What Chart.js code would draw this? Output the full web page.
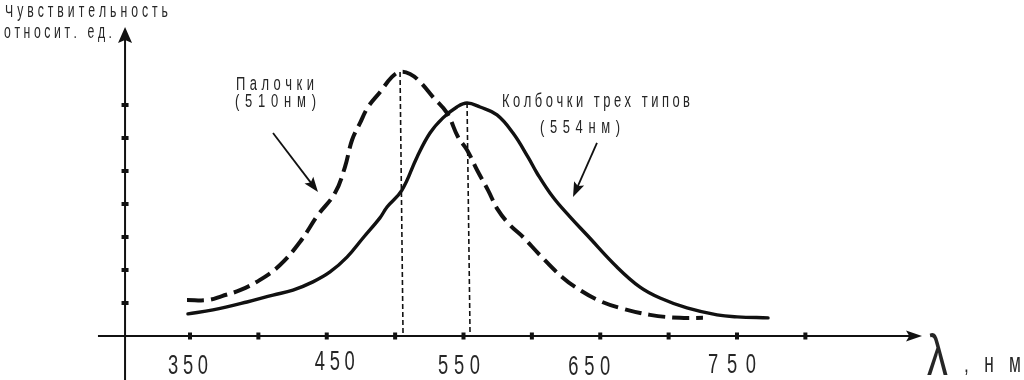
<!DOCTYPE html>
<html><head><meta charset="utf-8">
<script src="https://cdn.jsdelivr.net/npm/chart.js@4"></script>
<style>html,body{margin:0;padding:0;background:#fff;}#wrap{width:1024px;height:380px;position:relative;}</style>
</head><body><div id="wrap"><canvas id="c"></canvas></div>
<script>
// ---- data (wavelength, nm / relative sensitivity, rel. units) ----
const rodWavelength = [347.8, 363.2, 373.4, 386.6, 401.2, 415.8, 430.4, 443.6, 456.0, 463.3, 468.5, 474.3, 480.2, 488.9, 497.7, 503.6, 510.9, 518.2, 527.7, 537.9, 546.0, 552.6, 559.9, 567.9, 575.2, 584.0, 593.5, 605.9, 622.0, 635.2, 649.8, 664.4, 686.4, 708.3, 725.1];
const rodSensitivity = [1.09, 1.09, 1.21, 1.39, 1.70, 2.15, 2.85, 3.67, 4.33, 5.12, 5.94, 6.45, 6.94, 7.39, 7.85, 8.0, 7.94, 7.70, 7.24, 6.76, 6.03, 5.64, 5.03, 4.42, 3.82, 3.36, 3.0, 2.45, 1.79, 1.39, 1.06, 0.85, 0.64, 0.55, 0.55];
const coneWavelength = [348.5, 366.8, 391.7, 410.7, 425.3, 439.9, 452.4, 464.8, 476.5, 488.9, 494.1, 505.0, 516.0, 525.5, 535.0, 545.2, 552.6, 562.1, 574.5, 586.2, 597.2, 603.7, 615.4, 627.9, 640.3, 662.2, 679.1, 693.7, 713.4, 735.4, 750.0, 772.7];
const coneSensitivity = [0.67, 0.79, 1.03, 1.24, 1.39, 1.64, 1.94, 2.39, 2.97, 3.58, 3.91, 4.42, 5.42, 6.15, 6.61, 6.94, 7.06, 6.94, 6.70, 6.15, 5.42, 4.94, 4.21, 3.61, 3.06, 2.09, 1.48, 1.15, 0.85, 0.64, 0.58, 0.55];
const rodPeakWavelength = [503.6, 505.8];
const rodPeakLevel = [8.0, 0];
const conePeakWavelength = [552.6, 554.8];
const conePeakLevel = [7.06, 0];
const xTickValues = [350, 400, 450, 500, 550, 600, 650, 700, 750, 800];
const xLabelValues = [350, 450, 550, 650, 750];
const xTickLabels = ['350', '450', '550', '650', '750'];
const yTickValues = [1, 2, 3, 4, 5, 6, 7];
const yTitleLines = ['Чувствительность', 'относит. ед.'];
const rodLabelLines = ['Палочки', '(510нм)'];
const coneLabelLines = ['Колбочки трех типов', '(554нм)'];
const xUnitSymbol = 'λ';
const xUnitText = ',нм';

function pts(xs, ys) { return xs.map((x, i) => ({ x: x, y: ys[i] })); }

const NARROW = "'Liberation Sans Narrow', 'Liberation Sans', 'DejaVu Sans Condensed', sans-serif";
const INK = '#111';
const TEXT = '#262626';

function spacedText(ctx, text, x0, x1, baseline, size, sx, lowSy) {
  ctx.save();
  ctx.font = size + 'px ' + NARROW;
  ctx.fillStyle = TEXT;
  ctx.textBaseline = 'alphabetic';
  ctx.textAlign = 'left';
  const chars = Array.from(text);
  const widths = chars.map(c => ctx.measureText(c).width * sx);
  const total = widths.reduce((a, b) => a + b, 0);
  const gap = chars.length > 1 ? (x1 - x0 - total) / (chars.length - 1) : 0;
  let x = x0;
  chars.forEach((c, i) => {
    const isLow = c !== c.toUpperCase();
    ctx.save(); ctx.translate(x, baseline); ctx.scale(sx, isLow && lowSy ? lowSy : 1); ctx.fillText(c, 0, 0); ctx.restore();
    x += widths[i] + gap;
  });
  ctx.restore();
}

function arrowHead(ctx, tx, ty, dx, dy, len, half) {
  const n = Math.hypot(dx, dy); dx /= n; dy /= n;
  const bx = tx - dx * len, by = ty - dy * len;
  ctx.beginPath();
  ctx.moveTo(tx, ty);
  ctx.lineTo(bx - dy * half, by + dx * half);
  ctx.lineTo(bx + dx * len * 0.2, by + dy * len * 0.2);
  ctx.lineTo(bx + dy * half, by - dx * half);
  ctx.closePath();
  ctx.fill();
}

const decor = {
  id: 'decor',
  beforeDatasetsDraw(chart, args, o) {
    const ctx = chart.ctx, xs = chart.scales.x, ys = chart.scales.y;
    const X = v => xs.getPixelForValue(v), Y = v => ys.getPixelForValue(v);
    ctx.save();
    ctx.strokeStyle = INK; ctx.fillStyle = INK; ctx.lineWidth = 2;
    const y0 = Y(0), x0 = X(o.yAxisAt);
    ctx.beginPath(); ctx.moveTo(X(o.xAxisFrom), y0); ctx.lineTo(X(o.xAxisTo) - 10, y0); ctx.stroke();
    arrowHead(ctx, X(o.xAxisTo), y0, 1, 0, 16, 5.5);
    ctx.beginPath(); ctx.moveTo(x0, Y(o.yAxisFrom)); ctx.lineTo(x0, Y(o.yAxisTo) + 10); ctx.stroke();
    arrowHead(ctx, x0, Y(o.yAxisTo), 0, -1, 16, 7);
    xTickValues.forEach(v => ctx.fillRect(X(v) - 2, y0 - 3.5, 4, 7));
    yTickValues.forEach(v => ctx.fillRect(x0 - 3.5, Y(v) - 2, 7, 4));
    ctx.restore();
  },
  afterDraw(chart, args, o) {
    const ctx = chart.ctx, xs = chart.scales.x, ys = chart.scales.y;
    const X = v => xs.getPixelForValue(v), Y = v => ys.getPixelForValue(v);
    ctx.save();
    ctx.strokeStyle = INK; ctx.fillStyle = INK; ctx.lineWidth = 1.8;
    [o.rodArrow, o.coneArrow].forEach(a => {
      const sx = X(a[0]), sy = Y(a[1]), tx = X(a[2]), ty = Y(a[3]);
      const dx = tx - sx, dy = ty - sy, n = Math.hypot(dx, dy);
      ctx.beginPath(); ctx.moveTo(sx, sy); ctx.lineTo(tx - dx / n * 10, ty - dy / n * 10); ctx.stroke();
      arrowHead(ctx, tx, ty, dx, dy, 15, 5.5);
    });
    ctx.restore();
    xLabelValues.forEach((v, i) => {
      const c = X(v) + o.labelDx[i], w = o.labelW[i];
      spacedText(ctx, xTickLabels[i], c - w / 2, c + w / 2, o.labelBase[i], 27, 0.68);
    });
    spacedText(ctx, yTitleLines[0], 5, 168, 17, 17, 0.72, 1.15);
    spacedText(ctx, yTitleLines[1], 4, 112, 38, 17, 0.72, 1.15);
    spacedText(ctx, rodLabelLines[0], 236, 314, 90, 18, 0.72, 1.15);
    spacedText(ctx, rodLabelLines[1], 235, 316, 107, 18, 0.72, 1.15);
    spacedText(ctx, coneLabelLines[0], 502, 690, 107, 18, 0.72, 1.15);
    spacedText(ctx, coneLabelLines[1], 540, 620, 133, 18, 0.72, 1.15);
    spacedText(ctx, xUnitSymbol, 927, 927, 375, 58, 0.72);
    spacedText(ctx, xUnitText, 964, 1021, 372, 24, 0.72, 1.12);
  }
};

new Chart(document.getElementById('c'), {
  type: 'line',
  data: {
    datasets: [
      { data: pts(rodWavelength, rodSensitivity), borderColor: INK, borderWidth: 4, borderDash: [17, 7], borderCapStyle: 'butt', pointRadius: 0, tension: 0.4, fill: false },
      { data: pts(coneWavelength, coneSensitivity), borderColor: INK, borderWidth: 3.4, pointRadius: 0, tension: 0.4, borderJoinStyle: 'round', borderCapStyle: 'round', fill: false },
      { data: pts(rodPeakWavelength, rodPeakLevel), borderColor: INK, borderWidth: 1.6, borderDash: [5, 3], pointRadius: 0, tension: 0, fill: false },
      { data: pts(conePeakWavelength, conePeakLevel), borderColor: INK, borderWidth: 1.6, borderDash: [5, 3], pointRadius: 0, tension: 0, fill: false }
    ]
  },
  options: {
    responsive: true,
    maintainAspectRatio: false,
    animation: false,
    events: [],
    layout: { padding: { left: 94.275, right: 95.55, top: 22.5, bottom: 4.4 } },
    scales: {
      x: { type: 'linear', min: 280, max: 890, display: false },
      y: { type: 'linear', min: -1.2, max: 9.5, display: false }
    },
    plugins: {
      legend: { display: false },
      tooltip: { enabled: false },
      decor: {
        xAxisFrom: 282.7, xAxisTo: 885.3, yAxisAt: 302.5, yAxisFrom: -1.35, yAxisTo: 9.36,
        rodArrow: [410.7, 6.15, 443.6, 4.36],
        coneArrow: [647.6, 5.85, 630.1, 4.21],
        labelDx: [-2, 8, -4.5, -11, -5],
        labelW: [40, 40, 42, 42, 48],
        labelBase: [374, 370, 374, 375, 373]
      }
    }
  },
  plugins: [decor]
});
</script>
</body></html>
